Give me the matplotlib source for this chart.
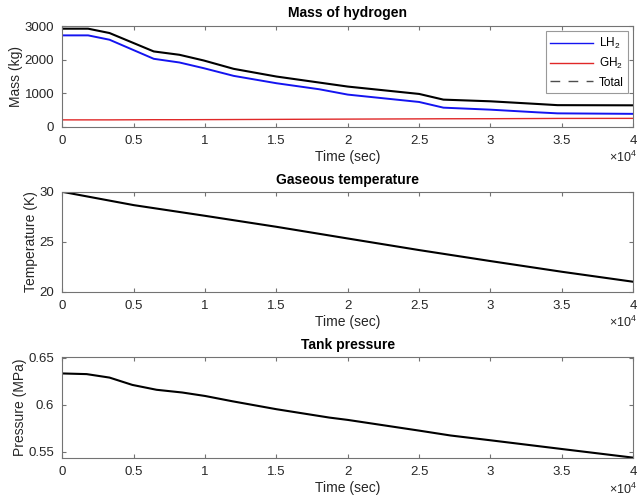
import numpy as np
import matplotlib
matplotlib.use("Agg")
import matplotlib.pyplot as plt
from matplotlib.lines import Line2D
from matplotlib.ticker import FuncFormatter

plt.rcParams['font.family'] = ['Liberation Sans', 'DejaVu Sans']
plt.rcParams['mathtext.default'] = 'regular'

### DATA
# mass of hydrogen
t_mass = [0, 1800, 3300, 6400, 8200, 9900, 12000, 15000, 18000, 20000,
          25000, 26700, 30000, 33300, 34700, 40000]
lh2 = [2730, 2730, 2600, 2030, 1920, 1750, 1520, 1300, 1120, 960,
       740, 570, 510, 430, 400, 385]
gh2 = [205, 205, 205, 210, 210, 212, 215, 220, 225, 228,
       235, 238, 240, 245, 248, 250]
total = [2930, 2930, 2800, 2250, 2150, 1980, 1730, 1500, 1320, 1200,
         980, 810, 760, 680, 645, 640]

# gaseous temperature
t_temp = [0, 5000, 10000, 15000, 20000, 25000, 30000, 35000, 40000]
temp = [30, 28.67, 27.6, 26.5, 25.33, 24.17, 23.07, 22.0, 21.0]

# tank pressure
t_pres = [0, 1700, 3300, 4900, 6600, 8400, 10000, 11900, 15000, 18700,
          20000, 25000, 27200, 30000, 35000, 40000]
pres = [0.6333, 0.6326, 0.6289, 0.6211, 0.6159, 0.6130, 0.6093, 0.6037,
        0.5952, 0.5863, 0.5838, 0.5724, 0.5672, 0.5621, 0.5528, 0.5436]

### STYLE HELPERS
AX_COLOR = '0.45'
TXT_COLOR = '0.15'
BLUE = '#1414f0'
RED = '#e02828'


def style_axes(ax):
    for sp in ax.spines.values():
        sp.set_color(AX_COLOR)
        sp.set_linewidth(0.8)
    ax.tick_params(direction='in', top=True, right=True, length=3,
                   color=AX_COLOR, labelcolor=TXT_COLOR, labelsize=9.5, pad=6)
    ax.set_xlim(0, 40000)
    ax.set_xticks(np.arange(0, 40001, 5000))
    ax.xaxis.set_major_formatter(FuncFormatter(lambda v, p: '%g' % (v / 1e4)))
    ax.yaxis.set_major_formatter(FuncFormatter(lambda v, p: '%g' % v))
    ax.text(1.006, -0.31, r'$\times$10$^4$', transform=ax.transAxes,
            ha='right', va='center', fontsize=9, color=TXT_COLOR)
    ax.set_xlabel('Time (sec)', fontsize=10, color=TXT_COLOR, labelpad=2)


fig = plt.figure(figsize=(6.37, 4.97), dpi=100)
left, width = 0.098, 0.896
ax1 = fig.add_axes([left, 0.745, width, 0.202])
ax2 = fig.add_axes([left, 0.413, width, 0.201])
ax3 = fig.add_axes([left, 0.079, width, 0.203])

# mass
ax1.plot(t_mass, lh2, color=BLUE, lw=1.4)
ax1.plot(t_mass, gh2, color=RED, lw=1.0)
ax1.plot(t_mass, total, color='black', lw=1.5)
style_axes(ax1)
ax1.set_ylim(0, 3000)
ax1.set_yticks([0, 1000, 2000, 3000])
ax1.set_ylabel('Mass (kg)', fontsize=10, color=TXT_COLOR, labelpad=1)
ax1.set_title('Mass of hydrogen', fontsize=10, fontweight='bold', pad=7)
handles = [Line2D([], [], color=BLUE, lw=1.0),
           Line2D([], [], color=RED, lw=1.0),
           Line2D([], [], color='0.3', lw=1.0, ls=(0, (7, 6)))]
leg = ax1.legend(handles, ['LH$_2$', 'GH$_2$', 'Total'], loc='upper right',
                 fontsize=8.5, fancybox=False, handlelength=3.6,
                 borderaxespad=0.4, labelspacing=0.45, handletextpad=0.5)
leg.get_frame().set_edgecolor('0.5')
leg.get_frame().set_linewidth(0.8)

# temperature
ax2.plot(t_temp, temp, color='black', lw=1.5)
style_axes(ax2)
ax2.set_ylim(20, 30)
ax2.set_yticks([20, 25, 30])
ax2.set_ylabel('Temperature (K)', fontsize=10, color=TXT_COLOR, labelpad=1)
ax2.set_title('Gaseous temperature', fontsize=10, fontweight='bold', pad=6)

# pressure
ax3.plot(t_pres, pres, color='black', lw=1.5)
style_axes(ax3)
ax3.set_ylim(0.5435, 0.651)
ax3.set_yticks([0.55, 0.6, 0.65])
ax3.set_ylabel('Pressure (MPa)', fontsize=10, color=TXT_COLOR, labelpad=1)
ax3.set_title('Tank pressure', fontsize=10, fontweight='bold', pad=6)

fig.savefig('out.png', dpi=100)
